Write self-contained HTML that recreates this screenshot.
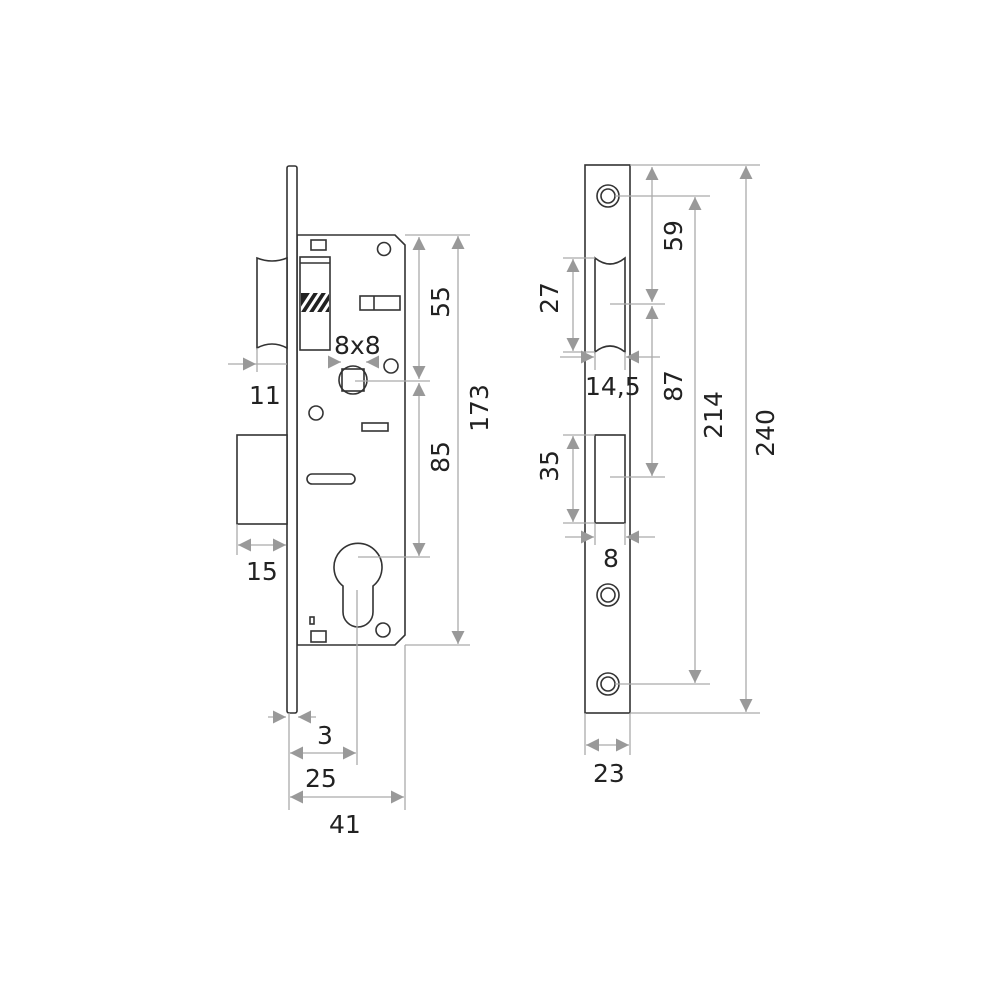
<!DOCTYPE html>
<html><head><meta charset="utf-8"><style>
html,body{margin:0;padding:0;background:#fff}
svg{display:block}
text{font-family:"DejaVu Sans","Liberation Sans",sans-serif;font-size:25px;fill:#222}
.k{fill:none;stroke:#333;stroke-width:1.6}
.w{fill:#fff;stroke:#333;stroke-width:1.6}
.d{stroke:#aaa;stroke-width:1.3;fill:none}
</style></head><body>
<svg width="1000" height="1000" viewBox="0 0 1000 1000" xmlns="http://www.w3.org/2000/svg">
<defs>
<marker id="a" viewBox="0 0 10 10" refX="10" refY="5" markerWidth="16" markerHeight="13" orient="auto-start-reverse" markerUnits="userSpaceOnUse"><path d="M0,0 L10,5 L0,10 z" fill="#999"/></marker>
<clipPath id="c"><rect x="301" y="293" width="28" height="19"/></clipPath>
</defs>
<!-- LEFT LOCK -->
<path class="w" d="M297,235 L395,235 L405,245 L405,635 L395,645 L297,645 Z"/>
<rect class="w" x="287" y="166" width="10" height="547" rx="2"/>
<path class="w" d="M257,258 Q272,264 287,258 L287,348 Q272,340 257,348 Z"/>
<rect class="w" x="237" y="435" width="50" height="89"/>
<rect class="k" x="300" y="257" width="30" height="93"/>
<line class="k" x1="300" y1="263" x2="330" y2="263"/>
<g clip-path="url(#c)">
<rect x="301" y="293" width="28" height="19" fill="#222"/>
<g stroke="#fff" stroke-width="3"><line x1="298" y1="314" x2="313" y2="291"/><line x1="306" y1="314" x2="321" y2="291"/><line x1="314" y1="314" x2="329" y2="291"/><line x1="322" y1="314" x2="337" y2="291"/></g>
</g>
<rect class="k" x="311" y="240" width="15" height="10"/>
<circle class="k" cx="384" cy="249" r="6.5"/>
<rect class="k" x="360" y="296" width="40" height="14"/><line class="k" x1="374" y1="296" x2="374" y2="310"/>
<circle class="k" cx="353" cy="380" r="14"/><rect class="k" x="342" y="369" width="22" height="22"/>
<circle class="k" cx="391" cy="366" r="7"/>
<circle class="k" cx="316" cy="413" r="7"/>
<rect class="k" x="362" y="423" width="26" height="8"/>
<rect class="k" x="307" y="474" width="48" height="10" rx="5"/>
<path class="k" d="M343,586 A24,24 0 1 1 373,586 L373,612 A15,15 0 0 1 343,612 Z"/>
<rect class="k" x="310" y="617" width="4" height="7"/>
<rect class="k" x="311" y="631" width="15" height="11"/>
<circle class="k" cx="383" cy="630" r="7"/>
<!-- left dims -->
<g class="d">
<line x1="405" y1="235" x2="470" y2="235"/><line x1="355" y1="381" x2="430" y2="381"/>
<line x1="358" y1="557" x2="430" y2="557"/><line x1="405" y1="645" x2="470" y2="645"/>
<line x1="419" y1="237" x2="419" y2="379" marker-start="url(#a)" marker-end="url(#a)"/>
<line x1="419" y1="383" x2="419" y2="556" marker-start="url(#a)" marker-end="url(#a)"/>
<line x1="458" y1="236" x2="458" y2="644" marker-start="url(#a)" marker-end="url(#a)"/>
<line x1="228" y1="364" x2="256" y2="364" marker-end="url(#a)"/><line x1="256" y1="364" x2="287" y2="364"/>
<line x1="257" y1="348" x2="257" y2="372"/>
<line x1="237" y1="524" x2="237" y2="555"/>
<line x1="238" y1="545" x2="286" y2="545" marker-start="url(#a)" marker-end="url(#a)"/>
<line x1="268" y1="717" x2="286" y2="717" marker-end="url(#a)"/><line x1="316" y1="717" x2="298" y2="717" marker-end="url(#a)"/>
<line x1="289" y1="713" x2="289" y2="810"/>
<line x1="357" y1="590" x2="357" y2="765"/><line x1="405" y1="645" x2="405" y2="810"/>
<line x1="290" y1="753" x2="356" y2="753" marker-start="url(#a)" marker-end="url(#a)"/>
<line x1="290" y1="797" x2="404" y2="797" marker-start="url(#a)" marker-end="url(#a)"/>
<line x1="328" y1="362" x2="341" y2="362" marker-end="url(#a)"/><line x1="379" y1="362" x2="366" y2="362" marker-end="url(#a)"/>
</g>
<text x="334" y="354">8x8</text>
<text x="249" y="404">11</text>
<text x="246" y="580">15</text>
<text x="317" y="744">3</text>
<text x="305" y="787">25</text>
<text x="329" y="833">41</text>
<text transform="translate(449,302) rotate(-90)" text-anchor="middle">55</text>
<text transform="translate(449,457) rotate(-90)" text-anchor="middle">85</text>
<text transform="translate(488,408) rotate(-90)" text-anchor="middle">173</text>
<!-- RIGHT STRIKE -->
<rect class="w" x="585" y="165" width="45" height="548"/>
<circle class="k" cx="608" cy="196" r="11"/><circle class="k" cx="608" cy="196" r="7"/>
<circle class="k" cx="608" cy="595" r="11"/><circle class="k" cx="608" cy="595" r="7"/>
<circle class="k" cx="608" cy="684" r="11"/><circle class="k" cx="608" cy="684" r="7"/>
<path class="k" d="M595,258 Q610,270 625,258 L625,352 Q610,340 595,352 Z"/>
<rect class="k" x="595" y="435" width="30" height="88"/>
<g class="d">
<line x1="630" y1="165" x2="760" y2="165"/><line x1="615" y1="196" x2="710" y2="196"/>
<line x1="610" y1="304" x2="665" y2="304"/><line x1="610" y1="477" x2="665" y2="477"/>
<line x1="615" y1="684" x2="710" y2="684"/><line x1="630" y1="713" x2="760" y2="713"/>
<line x1="652" y1="167" x2="652" y2="302" marker-start="url(#a)" marker-end="url(#a)"/>
<line x1="652" y1="306" x2="652" y2="476" marker-start="url(#a)" marker-end="url(#a)"/>
<line x1="695" y1="197" x2="695" y2="683" marker-start="url(#a)" marker-end="url(#a)"/>
<line x1="746" y1="166" x2="746" y2="712" marker-start="url(#a)" marker-end="url(#a)"/>
<line x1="563" y1="258" x2="595" y2="258"/><line x1="563" y1="352" x2="595" y2="352"/>
<line x1="573" y1="259" x2="573" y2="351" marker-start="url(#a)" marker-end="url(#a)"/>
<line x1="563" y1="435" x2="595" y2="435"/><line x1="563" y1="523" x2="595" y2="523"/>
<line x1="573" y1="436" x2="573" y2="522" marker-start="url(#a)" marker-end="url(#a)"/>
<line x1="560" y1="357" x2="594" y2="357" marker-end="url(#a)"/><line x1="660" y1="357" x2="626" y2="357" marker-end="url(#a)"/>
<line x1="595" y1="352" x2="595" y2="370"/><line x1="625" y1="352" x2="625" y2="370"/>
<line x1="565" y1="537" x2="594" y2="537" marker-end="url(#a)"/><line x1="655" y1="537" x2="626" y2="537" marker-end="url(#a)"/>
<line x1="595" y1="523" x2="595" y2="545"/><line x1="625" y1="523" x2="625" y2="545"/>
<line x1="585" y1="713" x2="585" y2="755"/><line x1="630" y1="713" x2="630" y2="755"/>
<line x1="586" y1="745" x2="629" y2="745" marker-start="url(#a)" marker-end="url(#a)"/>
</g>
<text x="585" y="395">14,5</text>
<text x="603" y="567">8</text>
<text x="593" y="782">23</text>
<text transform="translate(558,298) rotate(-90)" text-anchor="middle">27</text>
<text transform="translate(558,466) rotate(-90)" text-anchor="middle">35</text>
<text transform="translate(682,236) rotate(-90)" text-anchor="middle">59</text>
<text transform="translate(682,386) rotate(-90)" text-anchor="middle">87</text>
<text transform="translate(722,415) rotate(-90)" text-anchor="middle">214</text>
<text transform="translate(774,433) rotate(-90)" text-anchor="middle">240</text>
</svg>
</body></html>
